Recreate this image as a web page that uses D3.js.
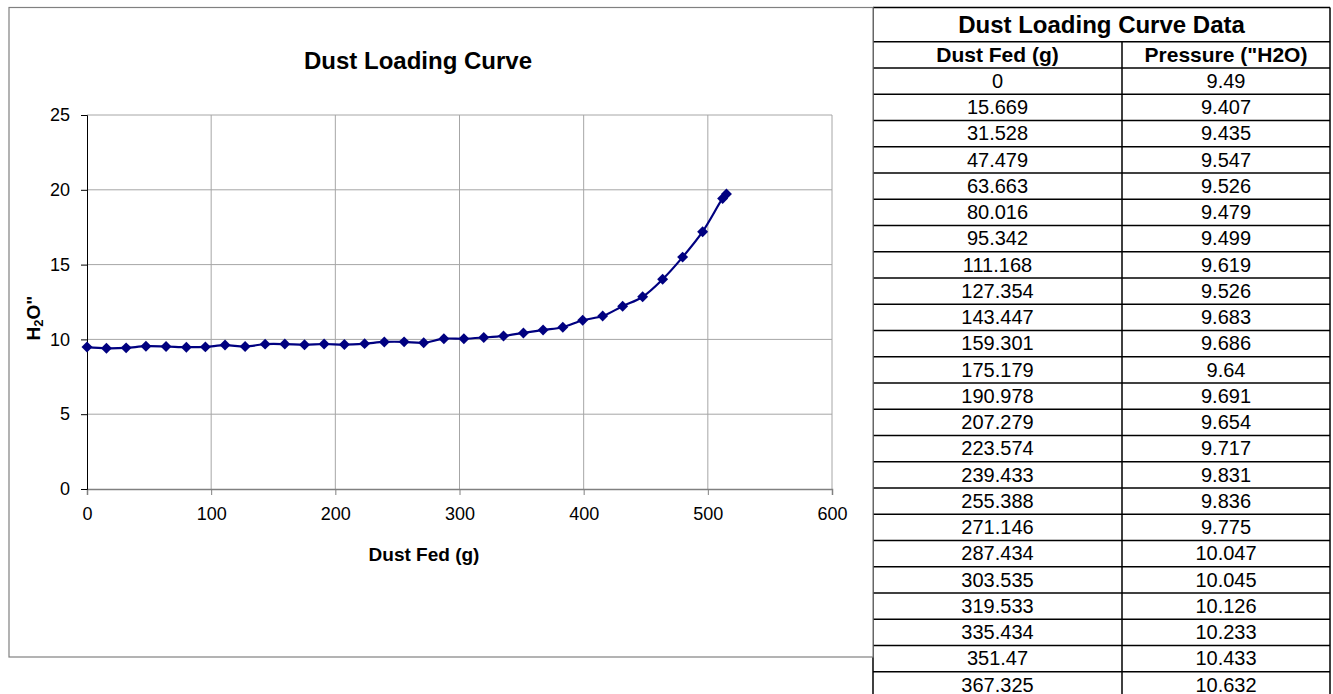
<!DOCTYPE html>
<html>
<head>
<meta charset="utf-8">
<script src="https://cdn.jsdelivr.net/npm/d3@7"></script>
<style>
  body { margin: 0; background: #fff; }
  svg { display: block; font-family: Arial, "Liberation Sans", sans-serif; }
</style>
</head>
<body>
<svg id="chart" width="1333" height="694"></svg>
<script>
// values shown in the data table
var dustFed = [0, 15.669, 31.528, 47.479, 63.663, 80.016, 95.342, 111.168, 127.354,
  143.447, 159.301, 175.179, 190.978, 207.279, 223.574, 239.433, 255.388, 271.146,
  287.434, 303.535, 319.533, 335.434, 351.47, 367.325];
var pressure = [9.49, 9.407, 9.435, 9.547, 9.526, 9.479, 9.499, 9.619, 9.526,
  9.683, 9.686, 9.64, 9.691, 9.654, 9.717, 9.831, 9.836, 9.775,
  10.047, 10.045, 10.126, 10.233, 10.433, 10.632];
// later points only visible on the chart
var dustFedMore = [383.2, 399.2, 415.3, 431.4, 447.5, 463.6, 479.7, 495.8, 511.9, 515.0];
var pressureMore = [10.81, 11.28, 11.56, 12.22, 12.85, 14.02, 15.5, 17.2, 19.42, 19.72];
// display strings for the table
var dustFedText = ['0', '15.669', '31.528', '47.479', '63.663', '80.016', '95.342', '111.168', '127.354',
  '143.447', '159.301', '175.179', '190.978', '207.279', '223.574', '239.433', '255.388', '271.146',
  '287.434', '303.535', '319.533', '335.434', '351.47', '367.325'];
var pressureText = ['9.49', '9.407', '9.435', '9.547', '9.526', '9.479', '9.499', '9.619', '9.526',
  '9.683', '9.686', '9.64', '9.691', '9.654', '9.717', '9.831', '9.836', '9.775',
  '10.047', '10.045', '10.126', '10.233', '10.433', '10.632'];
var xTicks = [0, 100, 200, 300, 400, 500, 600];
var yTicks = [0, 5, 10, 15, 20, 25];

var points = dustFed.concat(dustFedMore).map(function(d, i) {
  return { x: d, y: pressure.concat(pressureMore)[i] };
});

var svg = d3.select('#chart');

// ---- table (drawn first, chart border sits on its left edge) ----
var tLeft = 873, tMid = 1122, tRight = 1330,
  tTop = 7.5, titleBottom = 41.7, headBottom = 68, rowH = 26.25;
var table = svg.append('g').attr('class', 'table');

table.append('line')
  .attr('x1', tLeft).attr('x2', tLeft).attr('y1', tTop).attr('y2', 694)
  .attr('stroke', '#000').attr('stroke-width', 1.5);
table.append('line')
  .attr('x1', tRight).attr('x2', tRight).attr('y1', tTop).attr('y2', 694)
  .attr('stroke', '#000').attr('stroke-width', 1.5);
table.append('line')
  .attr('x1', tMid).attr('x2', tMid).attr('y1', titleBottom).attr('y2', 694)
  .attr('stroke', '#000').attr('stroke-width', 1.5);

var hLines = [tTop, titleBottom, headBottom].concat(dustFed.map(function(d, i) {
  return headBottom + (i + 1) * rowH;
}));
table.selectAll('.hline')
  .data(hLines)
  .enter()
  .append('line')
  .attr('class', 'hline')
  .attr('x1', tLeft).attr('x2', tRight)
  .attr('y1', function(d) { return d; })
  .attr('y2', function(d) { return d; })
  .attr('stroke', '#000').attr('stroke-width', 1.5);

table.append('text')
  .attr('x', (tLeft + tRight) / 2)
  .attr('y', (tTop + titleBottom) / 2)
  .attr('dy', '0.36em')
  .attr('text-anchor', 'middle')
  .style('font-size', '24px')
  .style('font-weight', 'bold')
  .text('Dust Loading Curve Data');

table.selectAll('.head')
  .data(['Dust Fed (g)', 'Pressure ("H2O)'])
  .enter()
  .append('text')
  .attr('x', function(d, i) { return i ? (tMid + tRight) / 2 : (tLeft + tMid) / 2; })
  .attr('y', (titleBottom + headBottom) / 2)
  .attr('dy', '0.36em')
  .attr('text-anchor', 'middle')
  .style('font-size', '21px')
  .style('font-weight', 'bold')
  .text(function(d) { return d; });

var rows = table.selectAll('.row')
  .data(dustFedText)
  .enter()
  .append('g')
  .attr('class', 'row')
  .attr('transform', function(d, i) {
    return 'translate(0,' + (headBottom + i * rowH + rowH / 2) + ')';
  });
rows.append('text')
  .attr('x', (tLeft + tMid) / 2)
  .attr('dy', '0.34em')
  .attr('text-anchor', 'middle')
  .style('font-size', '20px')
  .text(function(d) { return d; });
rows.append('text')
  .attr('x', (tMid + tRight) / 2)
  .attr('dy', '0.34em')
  .attr('text-anchor', 'middle')
  .style('font-size', '20px')
  .text(function(d, i) { return pressureText[i]; });

// ---- chart ----
var chartBox = { x: 9, y: 7.5, w: 864, h: 649.5 };
svg.append('rect')
  .attr('x', chartBox.x).attr('y', chartBox.y)
  .attr('width', chartBox.w).attr('height', chartBox.h)
  .attr('fill', '#fff')
  .attr('stroke', '#808080').attr('stroke-width', 1.2);

var x = d3.scaleLinear().domain([0, 600]).range([87, 832]);
var y = d3.scaleLinear().domain([0, 25]).range([489, 115]);

var g = svg.append('g');

// grid
g.selectAll('.vgrid')
  .data(xTicks.slice(1))
  .enter()
  .append('line')
  .attr('x1', function(d) { return x(d); })
  .attr('x2', function(d) { return x(d); })
  .attr('y1', y(25)).attr('y2', y(0))
  .attr('stroke', '#a6a6a6').attr('stroke-width', 1);
g.selectAll('.hgrid')
  .data(yTicks.slice(1))
  .enter()
  .append('line')
  .attr('x1', x(0)).attr('x2', x(600))
  .attr('y1', function(d) { return y(d); })
  .attr('y2', function(d) { return y(d); })
  .attr('stroke', '#a6a6a6').attr('stroke-width', 1);

// axes
var xAxis = g.append('g')
  .attr('transform', 'translate(0,' + y(0) + ')')
  .call(d3.axisBottom(x).tickValues(xTicks).tickSize(6).tickPadding(12));
xAxis.select('.domain').attr('stroke', '#808080').attr('stroke-width', 1.5);
xAxis.selectAll('.tick line').attr('stroke', '#808080');

var yAxis = g.append('g')
  .attr('transform', 'translate(' + x(0) + ',0)')
  .call(d3.axisLeft(y).tickValues(yTicks).tickSize(6).tickPadding(11));
yAxis.select('.domain').attr('stroke', '#000');
yAxis.selectAll('.tick line').attr('stroke', '#000');

g.selectAll('.tick text')
  .attr('fill', '#000')
  .style('font-size', '18px')
  .style('font-family', 'Arial, "Liberation Sans", sans-serif');

// titles
svg.append('text')
  .attr('x', 418).attr('y', 69)
  .attr('text-anchor', 'middle')
  .style('font-size', '24px')
  .style('font-weight', 'bold')
  .text('Dust Loading Curve');

svg.append('text')
  .attr('x', 424).attr('y', 561)
  .attr('text-anchor', 'middle')
  .style('font-size', '19px')
  .style('font-weight', 'bold')
  .text('Dust Fed (g)');

var yLabel = svg.append('text')
  .attr('transform', 'translate(40,318) rotate(-90)')
  .attr('text-anchor', 'middle')
  .style('font-size', '19px')
  .style('font-weight', 'bold');
yLabel.append('tspan').text('H');
yLabel.append('tspan').attr('baseline-shift', '-25%').style('font-size', '13px').text('2');
yLabel.append('tspan').text('O"');

// series
var line = d3.line()
  .x(function(d) { return x(d.x); })
  .y(function(d) { return y(d.y); })
  .curve(d3.curveCatmullRom.alpha(0.5));

g.append('path')
  .datum(points)
  .attr('d', line)
  .attr('fill', 'none')
  .attr('stroke', '#000080')
  .attr('stroke-width', 2.2);

g.selectAll('.pt')
  .data(points)
  .enter()
  .append('path')
  .attr('class', 'pt')
  .attr('d', d3.symbol().type(d3.symbolSquare).size(60))
  .attr('transform', function(d) {
    return 'translate(' + x(d.x) + ',' + y(d.y) + ') rotate(45)';
  })
  .attr('fill', '#000080');
</script>
</body>
</html>
